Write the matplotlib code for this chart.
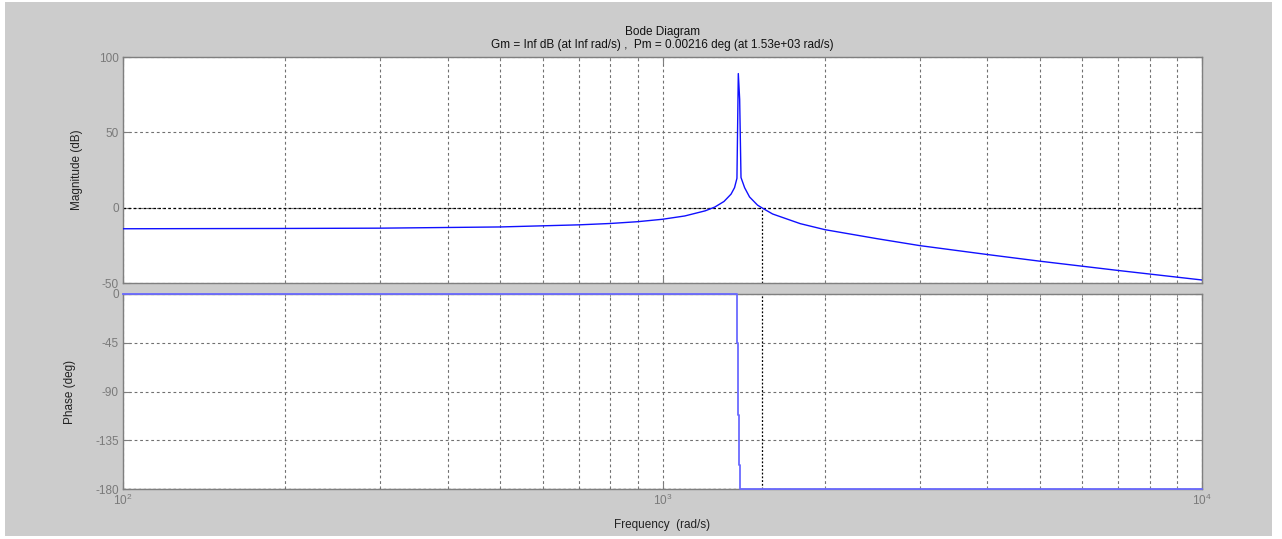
import matplotlib
matplotlib.use("Agg")
import matplotlib.pyplot as plt
from matplotlib.patches import Rectangle
from matplotlib.ticker import LogLocator, FixedLocator, NullFormatter

plt.rcParams['font.family'] = ['Liberation Sans', 'DejaVu Sans']
plt.rcParams['mathtext.default'] = 'regular'
plt.rcParams['axes.unicode_minus'] = False

# ---- data ----
mag_freq = [100, 200, 300, 500, 700, 800, 900, 1000, 1100, 1200, 1250, 1300,
            1340, 1360, 1374, 1382, 1390, 1398, 1420, 1450, 1500, 1530, 1600,
            1800, 2000, 2500, 3000, 4000, 5000, 7000, 10000]
mag_db = [-14.0, -13.8, -13.6, -12.8, -11.4, -10.5, -9.3, -7.7, -5.5, -2.1, 0.4, 4.1,
          9.0, 13.3, 19.5, 89.0, 72.0, 20.0, 13.2, 7.1, 1.7, -0.2, -4.2,
          -10.6, -14.6, -20.6, -25.2, -31.1, -35.5, -41.7, -48.0]

ph_freq = [100, 1376, 1376, 1382, 1382, 1387, 1387, 1394, 1394, 10000]
ph_deg = [0, 0, -45, -45, -112, -112, -158, -158, -180, -180]

mag_ticks = [-50, 0, 50, 100]
ph_ticks = [-180, -135, -90, -45, 0]
pm_freq = 1530

title1 = "Bode Diagram"
title2 = "Gm = Inf dB (at Inf rad/s) ,  Pm = 0.00216 deg (at 1.53e+03 rad/s)"

W, H = 1282, 539
fig = plt.figure(figsize=(W / 100, H / 100), dpi=100, facecolor='white')
fig.patches.append(Rectangle((5 / W, 0.006), 1267 / W, 0.99, transform=fig.transFigure,
                             facecolor='#cccccc', edgecolor='none', zorder=-10))

def fx(px):
    return px / W

def fy(py):
    return 1 - py / H

left, right = 123, 1202
ax1 = fig.add_axes([fx(left), fy(283), (right - left) / W, (283 - 57) / H])
ax2 = fig.add_axes([fx(left), fy(489), (right - left) / W, (489 - 294) / H])

tick_col = '#7a7a7a'
for ax in (ax1, ax2):
    ax.set_xscale('log')
    ax.set_xlim(100, 10000)
    ax.set_facecolor('white')
    for s in ax.spines.values():
        s.set_color('#7f7f7f')
        s.set_linewidth(1.0)
    ax.tick_params(which='both', direction='in', top=True, right=True,
                   colors='#7f7f7f', labelcolor=tick_col, labelsize=8.5)
    ax.tick_params(which='major', length=5, pad=3)
    ax.tick_params(which='minor', length=2.5)
    ax.xaxis.set_major_locator(LogLocator(base=10, numticks=10))
    ax.xaxis.set_minor_locator(LogLocator(base=10, subs=range(2, 10), numticks=20))
    ax.xaxis.set_minor_formatter(NullFormatter())
    ax.grid(True, which='both', axis='x', color='#707070', linestyle=(0, (2.5, 2.5)), linewidth=0.8)
    ax.grid(True, which='major', axis='y', color='#707070', linestyle=(0, (2.5, 2.5)), linewidth=0.8)
    ax.set_axisbelow(True)

ax1.set_ylim(-50, 100)
ax1.yaxis.set_major_locator(FixedLocator(mag_ticks))
ax1.tick_params(axis='x', which='both', labelbottom=False)
ax1.plot(mag_freq, mag_db, color='#1010ff', linewidth=1.0, zorder=3)
ax1.axhline(0, color='black', linestyle=(0, (2, 2)), linewidth=0.9, zorder=2)
ax1.plot([pm_freq, pm_freq], [-50, 0], color='black', linestyle=(0, (1.5, 1.5)), linewidth=0.9, zorder=2)
ax1.set_ylabel("Magnitude (dB)", fontsize=8.5, color='#222222')
ax1.yaxis.set_label_coords(-40 / (right - left), 0.5)

ax2.set_ylim(-180, 0)
ax2.yaxis.set_major_locator(FixedLocator(ph_ticks))
ax2.plot(ph_freq, ph_deg, color='#6a6aff', linewidth=1.3, zorder=3, clip_on=False)
ax2.axhline(-180, color='black', linestyle=(0, (2, 2)), linewidth=0.9, zorder=2)
ax2.axvline(pm_freq, color='black', linestyle=(0, (1.5, 1.5)), linewidth=0.9, zorder=2)
ax2.set_ylabel("Phase (deg)", fontsize=8.5, color='#222222')
ax2.yaxis.set_label_coords(-47 / (right - left), 0.5)
ax2.set_xlabel("Frequency  (rad/s)", fontsize=8.5, color='#222222', labelpad=8)

cx = fx((left + right) / 2)
fig.text(cx, fy(32), title1, ha='center', va='center', fontsize=8.5, color='#111111')
fig.text(cx, fy(45), title2, ha='center', va='center', fontsize=8.5, color='#111111')

fig.savefig("out.png", dpi=100, facecolor='white')
